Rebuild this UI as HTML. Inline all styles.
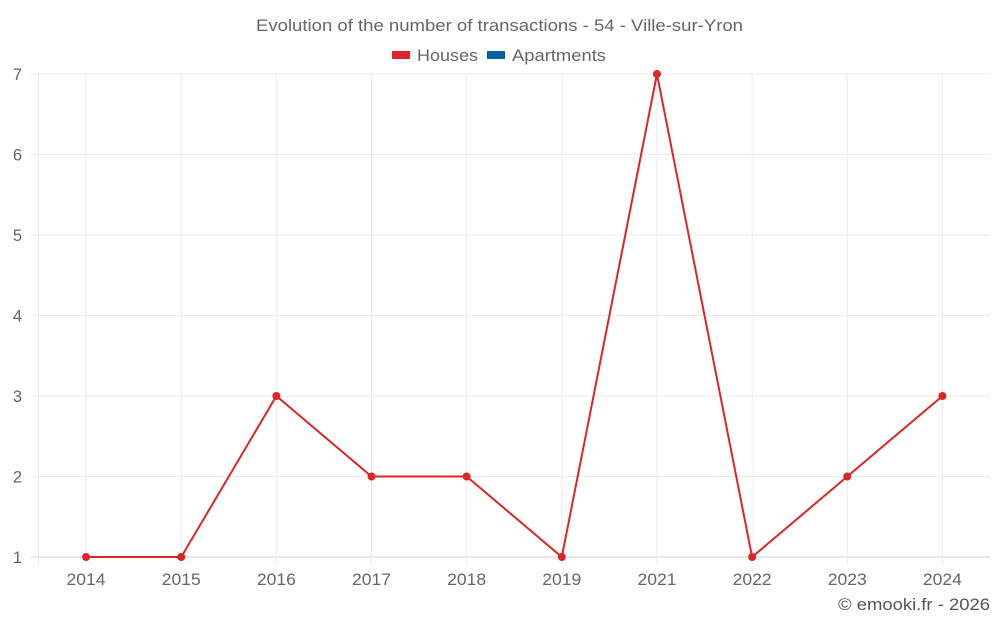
<!DOCTYPE html>
<html><head><meta charset="utf-8"><style>
body{margin:0;background:#fff;width:1000px;height:625px;overflow:hidden;font-family:"Liberation Sans",sans-serif}
</style></head><body>
<svg id="chart" width="1000" height="625" xmlns="http://www.w3.org/2000/svg" font-family="Liberation Sans, sans-serif">
<text x="256" y="31" textLength="487" lengthAdjust="spacingAndGlyphs" font-size="16.5" fill="#666">Evolution of the number of transactions - 54 - Ville-sur-Yron</text>
<g>
<rect x="392" y="51" width="18" height="8" fill="#dc2626"/>
<text x="417" y="61" textLength="61" lengthAdjust="spacingAndGlyphs" font-size="16.5" fill="#666">Houses</text>
<rect x="487" y="51" width="18" height="8" fill="#0063a0"/>
<text x="512" y="61" textLength="94" lengthAdjust="spacingAndGlyphs" font-size="16.5" fill="#666">Apartments</text>
</g>
<g id="grid"></g>
<g id="axes"></g>
<g id="series"></g>
<text x="838" y="610" textLength="152" lengthAdjust="spacingAndGlyphs" font-size="16.5" fill="#555">© emooki.fr - 2026</text>
</svg>
<script>
const categories=["2014","2015","2016","2017","2018","2019","2021","2022","2023","2024"];
const houses=[1,1,3,2,2,1,7,1,2,3];
const yTicks=[1,2,3,4,5,6,7];
const NS="http://www.w3.org/2000/svg";
const L=38.5,R=990,T=74,B=557,yMin=1,yMax=7;
const bw=(R-L)/categories.length;
function x(i){return L+bw*(i+0.5);}
function y(v){return B-(v-yMin)/(yMax-yMin)*(B-T);}
function mk(tag,attrs,parent){const e=document.createElementNS(NS,tag);for(const k in attrs)e.setAttribute(k,attrs[k]);parent.appendChild(e);return e;}
const grid=document.getElementById('grid'),axes=document.getElementById('axes'),series=document.getElementById('series');
yTicks.forEach(v=>{
 const l=mk('line',{x1:31,x2:R,y1:y(v),y2:y(v),stroke:v===yMin?'#d0d0d0':'#ebebeb','stroke-width':1},grid);
 
 
 const t=mk('text',{x:22,y:y(v)+6,'text-anchor':'end','font-size':16.5,fill:'#666'},axes);
 t.textContent=v;
 
 
});
const ax=mk('line',{x1:L,x2:L,y1:T,y2:B+7,stroke:'#ebebeb'},grid);


categories.forEach((c,i)=>{
 const l=mk('line',{x1:x(i),x2:x(i),y1:T,y2:B+7,stroke:'#ebebeb'},grid);
 
 
 const t=mk('text',{x:x(i),y:585,'text-anchor':'middle','font-size':16.5,fill:'#666',textLength:39,lengthAdjust:'spacingAndGlyphs'},axes);
 t.textContent=c;
 
 
});
const p=mk('polyline',{points:houses.map((v,i)=>x(i)+','+y(v)).join(' '),fill:'none',stroke:'#dc2626','stroke-width':2},series);


houses.forEach((v,i)=>{
 const c=mk('circle',{cx:x(i),cy:y(v),r:4,fill:'#dc2626'},series);
 
 
});
</script>
</body></html>
